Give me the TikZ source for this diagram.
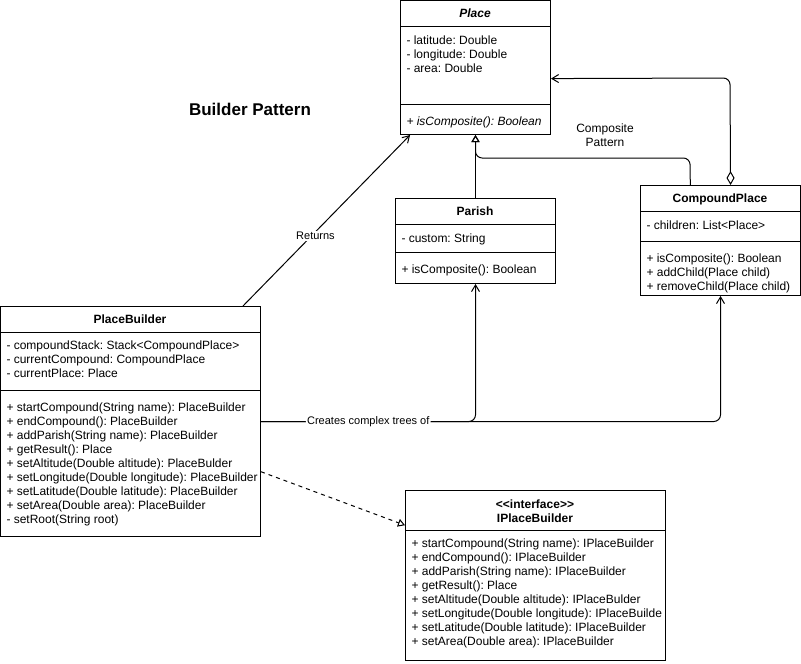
\documentclass[tikz,border=0pt]{standalone}
\usepackage{fontspec}
\setmainfont{Liberation Sans}
\frenchspacing
\usetikzlibrary{arrows.meta,calc}

\tikzset{every picture/.style={line width=0.75pt}}
\tikzset{
  classbox/.style={draw, rectangle, anchor=north west, inner sep=0pt},
  classname/.style={anchor=base, inner sep=0pt, font=\fontsize{9}{10.5}\selectfont\bfseries},
  members/.style={anchor=north west, align=left, inner sep=0pt, font=\fontsize{9}{10.5}\selectfont},
  edgelabel/.style={fill=white, inner sep=1pt, font=\fontsize{8.25}{10.5}\selectfont},
  generalize/.style={-{Triangle[open,length=5.25pt,width=6pt]}},
  assoc/.style={-{Straight Barb[length=5pt,width=6pt]}},
  aggregate/.style={{Diamond[open,length=10.5pt,width=6pt]}-{Straight Barb[length=5pt,width=6pt]}},
  realize/.style={dash pattern=on 3pt off 3pt, -{Triangle[open,length=5.25pt,width=6pt]}},
}

\begin{document}
\begin{tikzpicture}[x=0.75pt,y=0.75pt,yscale=-1,xscale=1]
	\path[use as bounding box, fill=white] (0,0) rectangle (801,664);

	% Heading
	\node[font=\fontsize{12.75}{15}\selectfont\bfseries] (heading) at (250,109) {Builder Pattern};

	% Class: Place
	\node[classbox, minimum width=112.5pt, minimum height=100.5pt] (place) at (400,0) {};
	\draw (place.north west) ++(0,26) -- ++(150,0);
	\draw (place.north west) ++(0,104) -- ++(150,0);
	\node[classname] (placeName) at (475,17.5) {\textit{Place}};
	\node[members] (placeAttr) at (406,35) {- latitude: Double\\- longitude: Double\\- area: Double};
	\node[members] (placeOps) at (406,116) {\textit{+ isComposite(): Boolean}};

	% Class: Parish
	\node[classbox, minimum width=120pt, minimum height=63.75pt] (parish) at (395,198) {};
	\draw (parish.north west) ++(0,26) -- ++(160,0);
	\draw (parish.north west) ++(0,54) -- ++(160,0);
	\node[classname] (parishName) at (475,215.5) {Parish};
	\node[members] (parishAttr) at (401,233) {- custom: String};
	\node[members] (parishOps) at (401,264) {+ isComposite(): Boolean};

	% Class: CompoundPlace
	\node[classbox, minimum width=120pt, minimum height=82.5pt] (compound) at (640,185) {};
	\draw (compound.north west) ++(0,26) -- ++(160,0);
	\draw (compound.north west) ++(0,56) -- ++(160,0);
	\node[classname] (compoundName) at (720,202.5) {CompoundPlace};
	\node[members] (compoundAttr) at (646,220) {- children: List<Place>};
	\node[members] (compoundOps) at (646,253) {+ isComposite(): Boolean\\+ addChild(Place child)\\+ removeChild(Place child)};

	% Class: PlaceBuilder
	\node[classbox, minimum width=195pt, minimum height=172.5pt] (builder) at (0,306) {};
	\draw (builder.north west) ++(0,26) -- ++(260,0);
	\draw (builder.north west) ++(0,84) -- ++(260,0);
	\node[classname] (builderName) at (130,323.5) {PlaceBuilder};
	\node[members] (builderAttr) at (6,340) {- compoundStack: Stack<CompoundPlace>\\- currentCompound: CompoundPlace\\- currentPlace: Place};
	\node[members] (builderOps) at (6,402) {+ startCompound(String name): PlaceBuilder\\+ endCompound(): PlaceBuilder\\+ addParish(String name): PlaceBuilder\\+ getResult(): Place\\+ setAltitude(Double altitude): PlaceBulder\\+ setLongitude(Double longitude): PlaceBuilder\\+ setLatitude(Double latitude): PlaceBuilder\\+ setArea(Double area): PlaceBuilder\\- setRoot(String root)};

	% Interface: IPlaceBuilder
	\node[classbox, minimum width=195pt, minimum height=127.5pt] (iface) at (405,490) {};
	\draw (iface.north west) ++(0,40) -- ++(260,0);
	\node[classname, anchor=center, align=center] (ifaceName) at (535,511) {<{}<interface>{}>\\IPlaceBuilder};
	\node[members] (ifaceOps) at (411,538) {+ startCompound(String name): IPlaceBuilder\\+ endCompound(): IPlaceBuilder\\+ addParish(String name): IPlaceBuilder\\+ getResult(): Place\\+ setAltitude(Double altitude): IPlaceBulder\\+ setLongitude(Double longitude): IPlaceBuilde\\+ setLatitude(Double latitude): IPlaceBuilder\\+ setArea(Double area): IPlaceBuilder};

	% Composite pattern edges
	\node[font=\fontsize{9}{10.5}\selectfont, align=center] (compositeNote) at (605,135) {Composite\\Pattern};
	\draw[generalize] (parish.north) -- (place.south);
	\coordinate (genBend) at (690,158);
	\draw[generalize, rounded corners=5pt] ($(compound.north west)!0.3125!(compound.north east)$) -- (genBend) -| (place.south);
	\coordinate (aggBend) at (730,78);
	\draw[aggregate, rounded corners=5pt] ($(compound.north west)!0.5625!(compound.north east)$) -- (aggBend) -- ($(place.north east)!0.582!(place.south east)$);

	% Builder edges
	\draw[assoc] ($(builder.north west)!0.931!(builder.north east)$) -- node[edgelabel, pos=0.41, xshift=3pt] (returnsLabel) {Returns} ($(place.south west)!0.0667!(place.south east)$);
	\draw[assoc, rounded corners=5pt] (builder.east) -| (compound.south);
	\draw[assoc, rounded corners=5pt] (builder.east) -| node[edgelabel, pos=0.25] (createsLabel) {Creates complex trees of} (parish.south);
	\draw[realize] ($(builder.north east)!0.7174!(builder.south east)$) -- ($(iface.north west)!0.206!(iface.south west)$);

\end{tikzpicture}
\end{document}
